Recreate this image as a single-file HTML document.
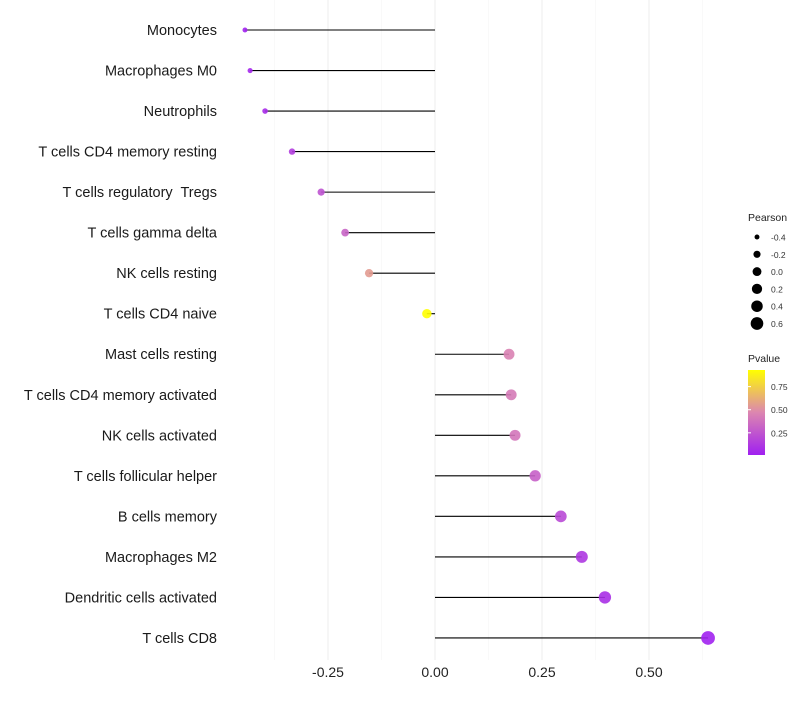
<!DOCTYPE html>
<html><head><meta charset="utf-8"><style>
body{margin:0;background:#fff;font-family:"Liberation Sans",sans-serif;}
text{white-space:pre;}
</style></head><body>
<svg id="chart" width="800" height="700" xmlns="http://www.w3.org/2000/svg" style="font-family:'Liberation Sans',sans-serif">
<defs><linearGradient id="pg" x1="0" y1="1" x2="0" y2="0">
<stop offset="0" stop-color="#A020F0"/><stop offset="0.5" stop-color="#DC86B0"/><stop offset="1" stop-color="#FFFF00"/></linearGradient></defs>
<g id="grid"></g><g id="marks"></g><g id="labels"></g><g id="xaxis"></g>
<g id="legend"></g>
</svg>
<script>
const categories=["Monocytes","Macrophages M0","Neutrophils","T cells CD4 memory resting","T cells regulatory  Tregs","T cells gamma delta","NK cells resting","T cells CD4 naive","Mast cells resting","T cells CD4 memory activated","NK cells activated","T cells follicular helper","B cells memory","Macrophages M2","Dendritic cells activated","T cells CD8"];
const pearson=[-0.444,-0.432,-0.397,-0.334,-0.266,-0.210,-0.154,-0.019,0.173,0.178,0.187,0.234,0.294,0.343,0.397,0.638];
const pvalues=[0.02,0.04,0.06,0.14,0.24,0.32,0.55,0.93,0.45,0.42,0.40,0.30,0.20,0.12,0.08,0.02];
const xTicks=[-0.25,0,0.25,0.5];
const xTickLabels=["-0.25","0.00","0.25","0.50"];
const sizeLegend=[-0.4,-0.2,0.0,0.2,0.4,0.6];
const pLegend=[0.25,0.5,0.75];
const NS="http://www.w3.org/2000/svg";
const X=v=>435+v*428;
const Y=i=>30+i*40.53;
const R=v=>Math.sqrt(Math.max(4,23+38*v));
const pmin=0.01,pmax=0.93;
function lerp(a,b,t){return a+(b-a)*t}
function col(p){let t=Math.min(1,Math.max(0,(p-pmin)/(pmax-pmin)));
 const s=[[160,32,240],[220,134,176],[255,255,0]];let a,b,u;
 if(t<0.5){a=s[0];b=s[1];u=t/0.5}else{a=s[1];b=s[2];u=(t-0.5)/0.5}
 return `rgb(${a.map((c,k)=>Math.round(lerp(c,b[k],u))).join(',')})`;}
function mk(tag,attrs,parent,text){const e=document.createElementNS(NS,tag);for(const k in attrs)e.setAttribute(k,attrs[k]);if(text!==undefined)e.textContent=text;document.getElementById(parent).appendChild(e);return e;}
[-0.375,-0.125,0.125,0.375,0.625].forEach(v=>{const l=mk('line',{x1:X(v),x2:X(v),y1:0,y2:660,stroke:'#f5f5f5','stroke-width':0.6},'grid');

});
xTicks.forEach((v,i)=>{const l=mk('line',{x1:X(v),x2:X(v),y1:0,y2:660,stroke:'#efefef','stroke-width':1.1},'grid');


const t=mk('text',{x:X(v),y:677,'text-anchor':'middle','font-size':14,fill:'#222'},'xaxis',xTickLabels[i]);

});
categories.forEach((c,i)=>{
 const y=Y(i);
 const t=mk('text',{x:217,y:y+5,'text-anchor':'end','font-size':14.5,fill:'#1a1a1a'},'labels',c);
 
 
 const l=mk('line',{x1:X(0),x2:X(pearson[i]),y1:y,y2:y,stroke:'#000','stroke-width':1.1},'marks');
 
 
 const d=mk('circle',{cx:X(pearson[i]),cy:y,r:R(pearson[i]),fill:col(pvalues[i]),'fill-opacity':0.9},'marks');
 
 
});
let t=mk('text',{x:748,y:221,'font-size':10.5,fill:'#222'},'legend','Pearson');


sizeLegend.forEach((v,i)=>{const y=237+i*17.3;
 const c=mk('circle',{cx:757,cy:y,r:Math.sqrt(19.6+34*v),fill:'#000'},'legend');
 
 
 const tx=mk('text',{x:771,y:y+3.5,'font-size':8.5,fill:'#333'},'legend',v.toFixed(1));
 
 });
t=mk('text',{x:748,y:362,'font-size':10.5,fill:'#222'},'legend','Pvalue');


const cb=mk('rect',{x:748,y:370,width:17,height:85,fill:'url(#pg)'},'legend');


pLegend.forEach(p=>{const y=455-(p-pmin)/(pmax-pmin)*85;
 const tx=mk('text',{x:771,y:y+3.5,'font-size':8.5,fill:'#333'},'legend',p.toFixed(2));
 
 
 const tk=mk('line',{x1:748,x2:751,y1:y,y2:y,stroke:'#fff'},'legend');
 
 });
</script>
</body></html>
